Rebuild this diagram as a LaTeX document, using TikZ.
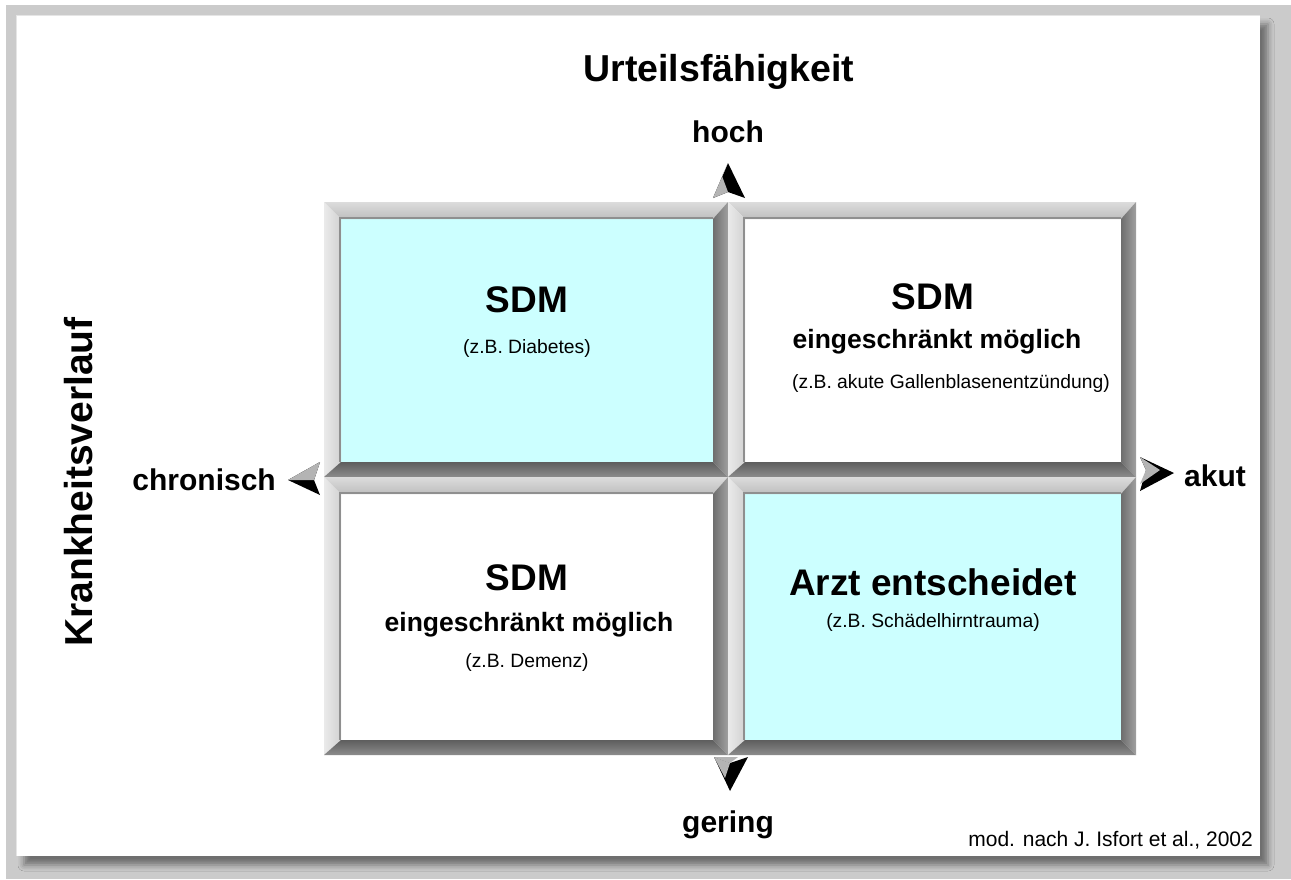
\documentclass[tikz,border=0pt]{standalone}
\usepackage{fontspec}
\setmainfont{Liberation Sans}
\usetikzlibrary{shadows.blur}

\definecolor{pagegray}{HTML}{CBCBCB}
\definecolor{cellcyan}{HTML}{CCFFFF}
\definecolor{bevTopA}{HTML}{DCDCDC}
\definecolor{bevTopB}{HTML}{BEBEBE}
\definecolor{bevLeftA}{HTML}{EAEAEA}
\definecolor{bevLeftB}{HTML}{D2D2D2}
\definecolor{bevRightA}{HTML}{6E6E6E}
\definecolor{bevRightB}{HTML}{A0A0A0}
\definecolor{bevBotA}{HTML}{5E5E5E}
\definecolor{bevBotB}{HTML}{8C8C8C}
\definecolor{innerline}{HTML}{8F8F8F}
\definecolor{tipgray}{HTML}{B4B4B4}

\tikzset{
  axislabel/.style={font=\fontsize{30}{32}\selectfont\bfseries, inner sep=0pt},
  titlelabel/.style={font=\fontsize{37.5}{40}\selectfont\bfseries, inner sep=0pt},
  sidelabel/.style={font=\fontsize{39}{42}\selectfont\bfseries, inner sep=0pt},
  headline/.style={font=\fontsize{37}{40}\selectfont\bfseries, inner sep=0pt},
  subline/.style={font=\fontsize{26.5}{28}\selectfont\bfseries, inner sep=0pt},
  example/.style={font=\fontsize{19.3}{22}\selectfont, inner sep=0pt},
  credit/.style={font=\fontsize{21}{23}\selectfont, inner sep=0pt},
}

% bevelled frame: outer corners (x1,y1)-(x2,y2), inner fill colour
\newcommand\bevelcell[5]{%
  \fill[#5] (#1+17,#2+17) rectangle (#3-15,#4-15);
  % top bevel
  \shade[top color=bevTopA, bottom color=bevTopB]
    (#1,#2) -- (#3,#2) -- (#3-15,#2+17) -- (#1+17,#2+17) -- cycle;
  % left bevel
  \shade[left color=bevLeftA, right color=bevLeftB]
    (#1,#2) -- (#1+17,#2+17) -- (#1+17,#4-15) -- (#1,#4) -- cycle;
  % right bevel
  \shade[left color=bevRightA, right color=bevRightB]
    (#3,#2) -- (#3,#4) -- (#3-15,#4-15) -- (#3-15,#2+17) -- cycle;
  % bottom bevel
  \shade[top color=bevBotA, bottom color=bevBotB]
    (#1,#4) -- (#3,#4) -- (#3-15,#4-15) -- (#1+17,#4-15) -- cycle;
  % inner edge
  \draw[innerline, line width=1.6] (#1+16,#4-15) -- (#1+16,#2+16) -- (#3-15,#2+16);
}

\begin{document}
\begin{tikzpicture}[x=1pt, y=-1pt]
\useasboundingbox (0,0) rectangle (1291,879);

% page backdrop and sheet with its shadow
\fill[pagegray] (6,5) rectangle (1291,879);
\fill[white, blur shadow={shadow xshift=8pt, shadow yshift=-9pt, shadow blur radius=6pt, shadow opacity=45}]
  (16,15) rectangle (1260,856);
\draw[black!10, line width=1.5] (16.7,856) -- (16.7,15.7) -- (1260,15.7);

% four cells
\bevelcell{324}{202}{728}{477}{cellcyan}
\bevelcell{728}{202}{1136}{477}{white}
\bevelcell{324}{477}{728}{755}{white}
\bevelcell{728}{477}{1136}{755}{cellcyan}

% axis ends
\coordinate (up) at (728,163);
\coordinate (down) at (730,791);
\coordinate (left) at (288,480);
\coordinate (right) at (1174,473);

% arrowheads: a light facet and a dark facet
\fill[black] (up) -- (713,198) -- (728,192) -- (745,198) -- cycle;
\fill[tipgray] (up) -- (713,198) -- (728,192) -- (722,176) -- cycle;

\fill[black] (down) -- (714,757) -- (730,763) -- (748,757) -- cycle;
\fill[tipgray] (714,757) -- (730,763) -- (738,757) -- cycle;
\fill[tipgray] (714,757) -- (730,763) -- (725,778) -- cycle;

\fill[black] (left) -- (320,462) -- (314,480) -- (320,495) -- cycle;
\fill[tipgray] (left) -- (320,462) -- (314,480) -- cycle;

\fill[black] (right) -- (1140,457) -- (1146,470) -- (1140,491) -- cycle;
\fill[tipgray] (1140,457) -- (1146,470) -- (1140,484) -- (1160,470) -- cycle;

% axis labels
\node[titlelabel] (title) at (719,72) {Urteilsfähigkeit};
\node[axislabel] (hoch) at (728,132) {hoch};
\node[axislabel] (gering) at (728,825) {gering};
\node[axislabel, anchor=east] (chronisch) at (276,480) {chronisch};
\node[axislabel, anchor=west] (akut) at (1184,476) {akut};
\node[sidelabel, rotate=90] (verlauf) at (79,482) {Krankheitsverlauf};

% cell texts
\node[headline] (tlhead) at (527,300) {SDM};
\node[example] (tlex) at (527,348) {(z.B. Diabetes)};

\node[headline] (trhead) at (933,297) {SDM};
\node[subline] (trsub) at (937,342) {eingeschränkt möglich};
\node[example] (trex) at (951,384) {(z.B. akute Gallenblasenentzündung)};

\node[headline] (blhead) at (527,578) {SDM};
\node[subline] (blsub) at (529,625) {eingeschränkt möglich};
\node[example] (blex) at (527,662) {(z.B. Demenz)};

\node[headline] (brhead) at (933,582) {Arzt entscheidet};
\node[example] (brex) at (933,622) {(z.B. Schädelhirntrauma)};

\node[credit, anchor=east] (credit) at (1253,840) {mod. nach J. Isfort et al., 2002};
\end{tikzpicture}
\end{document}
